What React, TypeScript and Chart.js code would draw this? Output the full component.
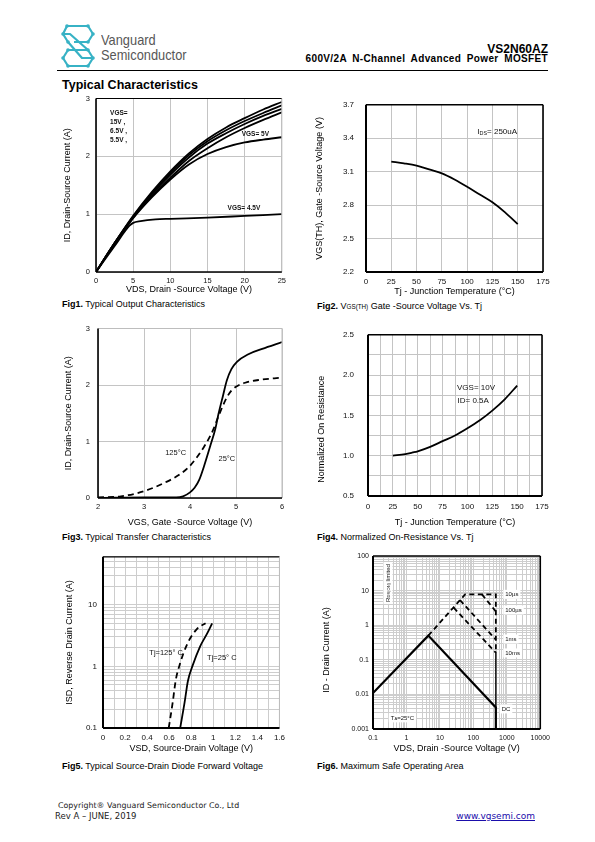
import React, { useEffect, useRef } from "react";
import { Chart, registerables } from "chart.js";

Chart.register(...registerables);

const SANS = "'Liberation Sans', Arial, Helvetica, sans-serif";
const NARROW = "'Liberation Sans Narrow', 'Arial Narrow', 'Liberation Sans', Arial, sans-serif";
const FOOT = "'DejaVu Sans', Verdana, sans-serif";

// ---------------- Fig1: output characteristics ----------------
const fig1Vds = [0, 2.5, 5, 7.5, 10, 12.5, 15, 17.5, 20, 22.5, 25];
const fig1Id15V = [0, 0.5, 0.97, 1.38, 1.74, 2.05, 2.3, 2.5, 2.66, 2.81, 2.94];
const fig1Id65V = [0, 0.5, 0.96, 1.36, 1.71, 2.02, 2.26, 2.45, 2.61, 2.75, 2.88];
const fig1Id6V = [0, 0.5, 0.95, 1.34, 1.68, 1.98, 2.22, 2.4, 2.56, 2.7, 2.82];
const fig1Id55V = [0, 0.49, 0.94, 1.31, 1.63, 1.92, 2.14, 2.33, 2.49, 2.63, 2.76];
const fig1Id5V = [0, 0.49, 0.93, 1.29, 1.6, 1.86, 2.04, 2.16, 2.24, 2.29, 2.33];
const fig1Vds45 = [0, 2.5, 4.5, 5, 6, 8, 10, 15, 20, 25];
const fig1Id45V = [0, 0.45, 0.8, 0.85, 0.88, 0.91, 0.92, 0.94, 0.97, 1.0];
const fig1NoteText = ["VGS=", "15V ,", "6.5V ,", "5.5V ,", "VGS= 5V", "VGS= 4.5V"];
const fig1NoteX = [1.9, 1.9, 1.9, 1.9, 19.6, 17.7];
const fig1NoteY = [2.74, 2.59, 2.43, 2.28, 2.39, 1.11];

// ---------------- Fig2: VGS(th) vs Tj ----------------
const fig2Tj = [25, 37.5, 50, 62.5, 75, 87.5, 100, 112.5, 125, 137.5, 150];
const fig2Vth = [3.19, 3.175, 3.155, 3.12, 3.085, 3.03, 2.965, 2.895, 2.825, 2.735, 2.63];
const fig2NoteText = ["I_{DS}= 250uA"];
const fig2NoteX = [110];
const fig2NoteY = [3.46];

// ---------------- Fig3: transfer characteristics ----------------
const fig3Vgs25 = [2, 3, 3.7, 3.85, 4.0, 4.1, 4.2, 4.3, 4.44, 4.55, 4.62, 4.72, 4.8, 4.9, 5.02, 5.28, 5.57, 6];
const fig3Id25 = [0, 0.01, 0.01, 0.03, 0.1, 0.18, 0.32, 0.55, 0.92, 1.22, 1.49, 1.82, 2.08, 2.28, 2.41, 2.55, 2.64, 2.76];
const fig3Vgs125 = [2, 2.5, 3, 3.5, 3.8, 4.0, 4.3, 4.5, 4.62, 4.8, 4.9, 5.0, 5.2, 5.5, 6];
const fig3Id125 = [0.01, 0.03, 0.12, 0.29, 0.43, 0.57, 0.9, 1.2, 1.45, 1.78, 1.9, 1.97, 2.04, 2.09, 2.13];
const fig3NoteText = ["125°C", "25°C"];
const fig3NoteX = [3.46, 4.62];
const fig3NoteY = [0.8, 0.7];

// ---------------- Fig4: normalized on-resistance ----------------
const fig4Tj = [25, 37.5, 45, 50, 62.5, 75, 87.5, 100, 112.5, 125, 137.5, 150];
const fig4Rn = [1.0, 1.02, 1.04, 1.055, 1.11, 1.18, 1.25, 1.34, 1.44, 1.56, 1.7, 1.87];
const fig4NoteText = ["VGS= 10V", "ID= 0.5A"];
const fig4NoteX = [89.5, 90];
const fig4NoteY = [1.845, 1.676];

// ---------------- Fig5: body diode ----------------
const fig5Vsd25 = [0.7, 0.74, 0.77, 0.81, 0.88, 0.94, 0.99];
const fig5Isd25 = [0.1, 0.26, 0.58, 1.0, 2.1, 3.3, 5.0];
const fig5Vsd125 = [0.596, 0.632, 0.66, 0.7, 0.766, 0.855, 0.93];
const fig5Isd125 = [0.1, 0.26, 0.6, 1.13, 2.35, 4.1, 5.0];
const fig5NoteText = ["Tj=125° C", "Tj=25° C"];
const fig5NoteX = [0.42, 0.944];
const fig5NoteY = [1.65, 1.37];

// ---------------- Fig6: safe operating area ----------------
const fig6DcV = [0.1, 4.5, 470, 470];
const fig6DcI = [0.011, 0.5, 0.0042, 0.001];
const fig6LimV = [4.5, 57, 470, 470];
const fig6LimI = [0.5, 7.8, 7.8, 0.17];
const fig6EdgeV = [470, 470];
const fig6EdgeI = [0.17, 0.0042];
const fig6P100usV = [180, 470];
const fig6P100usI = [7.8, 2.5];
const fig6P1msV = [40, 470];
const fig6P1msI = [5.3, 0.38];
const fig6P10msV = [25.8, 470];
const fig6P10msI = [3.2, 0.16];
const fig6NoteText = ["10µs", "100µs", "1ms", "10ms", "DC", "T_{A}=25°C", "R_{DS(ON)} limited"];
const fig6NoteX = [900, 900, 900, 900, 700, 0.34, 0.28];
const fig6NoteY = [7.8, 2.76, 0.4, 0.158, 0.0038, 0.0021, 16.6];

// ---------------- helpers ----------------
type Note = {
  x: number; y: number; text: string; size: number; family: string;
  weight?: string; align?: "left" | "center"; rotate?: boolean; bg?: boolean;
};

function parseRich(t: string) {
  const out: { t: string; sub: boolean }[] = [];
  const re = /_\{([^}]*)\}/g;
  let last = 0;
  let m: RegExpExecArray | null;
  while ((m = re.exec(t))) {
    if (m.index > last) out.push({ t: t.slice(last, m.index), sub: false });
    out.push({ t: m[1], sub: true });
    last = m.index + m[0].length;
  }
  if (last < t.length) out.push({ t: t.slice(last), sub: false });
  return out;
}

const notesPlugin = {
  id: "notes",
  afterDatasetsDraw(chart: any, _a: any, opts: any) {
    const items: Note[] = (opts && opts.items) || [];
    const ctx = chart.ctx as CanvasRenderingContext2D;
    const xs = chart.scales.x, ys = chart.scales.y;
    for (const n of items) {
      const px = xs.getPixelForValue(n.x);
      const py = ys.getPixelForValue(n.y);
      const segs = parseRich(n.text);
      ctx.save();
      ctx.translate(px, py);
      if (n.rotate) ctx.rotate(-Math.PI / 2);
      const fnt = (sub: boolean) => `${n.weight || "normal"} ${sub ? n.size * 0.68 : n.size}px ${n.family}`;
      const widths = segs.map((s) => { ctx.font = fnt(s.sub); return ctx.measureText(s.t).width; });
      const total = widths.reduce((a, b) => a + b, 0);
      let x0 = n.align === "center" ? -total / 2 : 0;
      if (n.bg) {
        ctx.fillStyle = "#fff";
        ctx.fillRect(x0 - 2, -n.size * 0.75, total + 4, n.size * 1.5);
      }
      ctx.fillStyle = "#111";
      ctx.textBaseline = "middle";
      ctx.textAlign = "left";
      segs.forEach((s, i) => {
        ctx.font = fnt(s.sub);
        ctx.fillText(s.t, x0, s.sub ? n.size * 0.22 : 0);
        x0 += widths[i];
      });
      ctx.restore();
    }
  },
};

const framePlugin = {
  id: "frame",
  afterDatasetsDraw(chart: any, _a: any, o: any) {
    const { left, top, right, bottom } = chart.chartArea;
    const ctx = chart.ctx as CanvasRenderingContext2D;
    const side = (x1: number, y1: number, x2: number, y2: number, s: [string, number]) => {
      if (!s) return;
      ctx.save();
      ctx.strokeStyle = s[0];
      ctx.lineWidth = s[1];
      ctx.beginPath();
      ctx.moveTo(x1, y1);
      ctx.lineTo(x2, y2);
      ctx.stroke();
      ctx.restore();
    };
    side(left, top, right, top, o.top);
    side(right, top, right, bottom, o.right);
    side(left, bottom, right, bottom, o.bottom);
    side(left, top, left, bottom, o.left);
  },
};

function logTicks(min: number, max: number) {
  const out: number[] = [];
  for (let e = Math.floor(Math.log10(min)); e <= Math.ceil(Math.log10(max)); e++) {
    for (let s = 1; s <= 9; s++) {
      const v = Number((s * Math.pow(10, e)).toPrecision(6));
      if (v >= min * 0.9999 && v <= max * 1.0001) out.push(v);
    }
  }
  if (out[out.length - 1] < max) out.push(max);
  return out;
}

const isDecade = (v: number) => Math.abs(Math.log10(v) - Math.round(Math.log10(v))) < 1e-6;
const fmtDecade = (v: number) => (isDecade(v) ? String(Number(v.toPrecision(3))) : "");

type AxisSpec = {
  type: "linear" | "logarithmic";
  min: number; max: number; step?: number;
  fmt: (v: number) => string;
  title: string; titlePad: number; tickPad: number;
  tickFont: any; grid: string;
};

function buildAxis(a: AxisSpec, horizontal: boolean, size: number) {
  return {
    type: a.type,
    min: a.min,
    max: a.max,
    border: { display: false },
    grid: { color: a.grid, lineWidth: 1, drawTicks: false },
    ticks: {
      stepSize: a.step,
      autoSkip: false,
      maxRotation: 0,
      minRotation: 0,
      maxTicksLimit: 1000,
      padding: a.tickPad,
      font: a.tickFont,
      color: "#111",
      callback: (v: any) => a.fmt(Number(v)),
    },
    title: {
      display: true,
      text: a.title,
      color: "#000",
      font: { family: SANS, size: 9 },
      padding: horizontal ? { top: 0, bottom: a.titlePad } : { top: a.titlePad, bottom: 0 },
    },
    afterBuildTicks: a.type === "logarithmic"
      ? (s: any) => { s.ticks = logTicks(a.min, a.max).map((value) => ({ value })); }
      : undefined,
    afterFit: (s: any) => {
      if (horizontal) s.height = size; else s.width = size;
    },
  };
}

type PanelProps = {
  box: { left: number; top: number; w: number; h: number };
  plot: { l: number; t: number; r: number; b: number };
  x: AxisSpec; y: AxisSpec;
  datasets: any[];
  notes: Note[];
  frame: any;
};

function Panel(p: PanelProps) {
  const ref = useRef<HTMLCanvasElement>(null);
  useEffect(() => {
    const L = p.plot.l - p.box.left;
    const T = p.plot.t - p.box.top;
    const R = p.box.left + p.box.w - p.plot.r;
    const B = p.box.top + p.box.h - p.plot.b;
    const chart = new Chart(ref.current as HTMLCanvasElement, {
      type: "line",
      data: { datasets: p.datasets },
      plugins: [framePlugin, notesPlugin],
      options: {
        animation: false,
        responsive: false,
        maintainAspectRatio: false,
        devicePixelRatio: 1,
        layout: { padding: { left: 0, top: T, right: R, bottom: 0 } },
        scales: { x: buildAxis(p.x, true, B), y: buildAxis(p.y, false, L) } as any,
        plugins: {
          legend: { display: false },
          tooltip: { enabled: false },
          frame: p.frame,
          notes: { items: p.notes },
        } as any,
      },
    } as any);
    return () => chart.destroy();
  }, []);
  return (
    <canvas
      ref={ref}
      width={p.box.w}
      height={p.box.h}
      style={{ position: "absolute", left: p.box.left, top: p.box.top, width: p.box.w, height: p.box.h }}
    />
  );
}

const series = (xs: number[], ys: number[], extra: any = {}) => ({
  data: xs.map((x, i) => ({ x, y: ys[i] })),
  borderColor: "#000",
  borderWidth: 1.8,
  pointRadius: 0,
  fill: false,
  tension: 0,
  ...extra,
});
const smooth = { cubicInterpolationMode: "monotone" };
const dashed = { borderDash: [5, 3.5] };

const notesOf = (texts: string[], xs: number[], ys: number[], style: Partial<Note>): Note[] =>
  texts.map((text, i) => ({ x: xs[i], y: ys[i], text, size: 7, family: NARROW, ...style } as Note));

const tickSans = { family: SANS, size: 7.5 };
const tickNarrow = { family: NARROW, size: 8 };
const GRID = "#c4c4c4";
const GRID_L = "#cdcdcd";
const BLK: [string, number] = ["#000", 1.6];
const THIN: [string, number] = ["#000", 1.2];
const GRY: [string, number] = ["#bdbdbd", 1];

const int = (v: number) => String(Math.round(v));
const f1 = (v: number) => v.toFixed(1);
const PAD = (n: number) => " ".repeat(n);

function Txt(props: any) {
  const { left, right, top, size, bold, family, color, style, children } = props;
  return (
    <div
      style={{
        position: "absolute",
        left,
        right,
        top,
        fontSize: size,
        lineHeight: `${size}px`,
        fontWeight: bold ? "bold" : "normal",
        fontFamily: family || SANS,
        color: color || "#000",
        whiteSpace: "nowrap",
        ...style,
      }}
    >
      {children}
    </div>
  );
}

function Caption({ left, top, n, children }: any) {
  return (
    <Txt left={left} top={top} size={9}>
      <b>{`Fig${n}.`}</b> {children}
    </Txt>
  );
}

function Logo() {
  const c = "#37b2c5";
  const dots = [[6, 2], [27, 2], [32, 10], [27, 18], [2, 10], [7, 18], [7, 26], [27, 26], [2, 34], [7, 42], [27, 42], [32, 34]];
  return (
    <svg width={35} height={45} viewBox="-1 -1 35 45" style={{ position: "absolute", left: 60, top: 23 }}>
      <g stroke={c} strokeWidth={2.2} fill="none" strokeLinejoin="round">
        <path d="M27 2 H6 L2 10 L7 18" />
        <path d="M27 2 L32 10 L27 18 H13" />
        <path d="M2 10 H9 L27 26" />
        <path d="M7 18 L21 34 H32" />
        <path d="M7 26 H27 L32 34 L27 42 H7 L2 34 L7 26" />
      </g>
      {dots.map(([x, y], i) => (
        <circle key={i} cx={x} cy={y} r={1.8} fill={c} />
      ))}
    </svg>
  );
}

const brandStyle = { transform: "scaleX(0.855)", transformOrigin: "0 0" };

export default function App() {
  return (
    <div style={{ position: "absolute", left: 0, top: 0, width: 595, height: 842, background: "#fff", overflow: "hidden" }}>
      {/* header */}
      <Logo />
      <Txt left={101} top={32} size={15} family={SANS} color="#575757" style={brandStyle}>Vanguard</Txt>
      <Txt left={101} top={47} size={15} family={SANS} color="#575757" style={brandStyle}>Semiconductor</Txt>
      <Txt right={47} top={43} size={12} bold>VS2N60AZ</Txt>
      <Txt right={47} top={53.5} size={10} bold style={{ letterSpacing: "0.35px", wordSpacing: "2.5px" }}>
        600V/2A N-Channel Advanced Power MOSFET
      </Txt>
      <div style={{ position: "absolute", left: 57, top: 70, width: 491, height: 1.2, background: "#000" }} />
      <Txt left={62} top={78.5} size={12.5} bold>Typical Characteristics</Txt>

      {/* Fig1 */}
      <Panel
        box={{ left: 55, top: 88, w: 235, h: 208 }}
        plot={{ l: 96, t: 97, r: 282, b: 272 }}
        x={{ type: "linear", min: 0, max: 25, step: 5, fmt: int, title: "VDS, Drain -Source Voltage (V)", titlePad: 0.6, tickPad: 4, tickFont: tickSans, grid: GRID }}
        y={{ type: "linear", min: 0, max: 3, step: 1, fmt: int, title: "ID, Drain-Source Current (A)", titlePad: 7.6, tickPad: 6, tickFont: tickSans, grid: GRID }}
        datasets={[
          series(fig1Vds, fig1Id15V, smooth),
          series(fig1Vds, fig1Id65V, smooth),
          series(fig1Vds, fig1Id6V, smooth),
          series(fig1Vds, fig1Id55V, smooth),
          series(fig1Vds, fig1Id5V, smooth),
          series(fig1Vds45, fig1Id45V, smooth),
        ]}
        notes={notesOf(fig1NoteText, fig1NoteX, fig1NoteY, { size: 6.5, weight: "bold" })}
        frame={{ left: BLK, bottom: BLK, top: THIN, right: GRY }}
      />
      <Caption left={62} top={299.5} n={1}>Typical Output Characteristics</Caption>

      {/* Fig2 */}
      <Panel
        box={{ left: 300, top: 88, w: 255, h: 210 }}
        plot={{ l: 366, t: 99, r: 543, b: 272 }}
        x={{ type: "linear", min: 0, max: 175, step: 25, fmt: int, title: "Tj - Junction Temperature (°C)", titlePad: 0.9, tickPad: 5, tickFont: tickNarrow, grid: GRID }}
        y={{ type: "linear", min: 2.2, max: 3.7, step: 0.3, fmt: f1, title: "VGS(TH), Gate -Source Voltage (V)", titlePad: 14.6, tickPad: 12, tickFont: tickNarrow, grid: GRID }}
        datasets={[series(fig2Tj, fig2Vth, smooth)]}
        notes={notesOf(fig2NoteText, fig2NoteX, fig2NoteY, { size: 8 })}
        frame={{ left: ["#000", 2], bottom: ["#000", 2], top: BLK, right: BLK }}
      />
      <Txt left={317} top={301.5} size={9}>
        <b>Fig2.</b> V<span style={{ fontSize: 6.3 }}>GS(TH)</span> Gate -Source Voltage Vs. Tj
      </Txt>

      {/* Fig3 */}
      <Panel
        box={{ left: 55, top: 316, w: 235, h: 214 }}
        plot={{ l: 98, t: 324, r: 282, b: 498 }}
        x={{ type: "linear", min: 2, max: 6, step: 1, fmt: int, title: "VGS, Gate -Source Voltage (V)", titlePad: 2.3, tickPad: 4.5, tickFont: tickSans, grid: GRID }}
        y={{ type: "linear", min: 0, max: 3, step: 1, fmt: int, title: "ID, Drain-Source Current (A)", titlePad: 7.9, tickPad: 8, tickFont: tickSans, grid: GRID }}
        datasets={[
          series(fig3Vgs25, fig3Id25, smooth),
          series(fig3Vgs125, fig3Id125, { ...smooth, borderDash: [6, 4] }),
        ]}
        notes={notesOf(fig3NoteText, fig3NoteX, fig3NoteY, { size: 7.5, family: SANS })}
        frame={{ left: BLK, bottom: BLK, top: GRY, right: GRY }}
      />
      <Caption left={62} top={532.5} n={3}>Typical Transfer Characteristics</Caption>

      {/* Fig4 */}
      <Panel
        box={{ left: 300, top: 316, w: 255, h: 214 }}
        plot={{ l: 368, t: 326, r: 542, b: 496 }}
        x={{ type: "linear", min: 0, max: 175, step: 12.5, fmt: (v) => (Math.abs(v / 25 - Math.round(v / 25)) < 1e-6 ? int(v) : ""), title: "Tj - Junction Temperature (°C)", titlePad: 2.3, tickPad: 6, tickFont: tickNarrow, grid: GRID }}
        y={{ type: "linear", min: 0.5, max: 2.5, step: 0.25, fmt: (v) => (Math.abs(v * 2 - Math.round(v * 2)) < 1e-6 ? f1(v) : ""), title: "Normalized On Resistance" + PAD(11), titlePad: 16.3, tickPad: 14, tickFont: tickNarrow, grid: GRID }}
        datasets={[series(fig4Tj, fig4Rn, smooth)]}
        notes={notesOf(fig4NoteText, fig4NoteX, fig4NoteY, { size: 8 })}
        frame={{ left: ["#000", 2], bottom: ["#000", 2], top: BLK, right: BLK }}
      />
      <Caption left={317} top={532.5} n={4}>Normalized On-Resistance Vs. Tj</Caption>

      {/* Fig5 */}
      <Panel
        box={{ left: 55, top: 546, w: 235, h: 211 }}
        plot={{ l: 103, t: 554, r: 282, b: 728 }}
        x={{ type: "linear", min: 0, max: 1.6, step: 0.1, fmt: (v) => { const r = Math.round(v * 10); return r % 2 ? "" : String(r / 10); }, title: "VSD, Source-Drain Voltage (V)", titlePad: 2.6, tickPad: 5, tickFont: tickNarrow, grid: GRID_L }}
        y={{ type: "logarithmic", min: 0.1, max: 60, fmt: fmtDecade, title: "ISD, Reverse Drain Current (A)", titlePad: 9.6, tickPad: 6, tickFont: tickNarrow, grid: GRID_L }}
        datasets={[
          series(fig5Vsd25, fig5Isd25, smooth),
          series(fig5Vsd125, fig5Isd125, { ...smooth, borderDash: [6, 4] }),
        ]}
        notes={notesOf(fig5NoteText, fig5NoteX, fig5NoteY, { size: 7.5 })}
        frame={{ left: ["#000", 2], bottom: ["#000", 2], top: THIN, right: GRY }}
      />
      <Caption left={62} top={761.5} n={5}>Typical Source-Drain Diode Forward Voltage</Caption>

      {/* Fig6 */}
      <Panel
        box={{ left: 305, top: 546, w: 250, h: 211 }}
        plot={{ l: 373, t: 556, r: 543, b: 729 }}
        x={{ type: "logarithmic", min: 0.1, max: 10000, fmt: fmtDecade, title: "VDS, Drain -Source Voltage (V)", titlePad: 2.6, tickPad: 5, tickFont: { family: NARROW, size: 7 }, grid: GRID_L }}
        y={{ type: "logarithmic", min: 0.001, max: 100, fmt: fmtDecade, title: "ID - Drain Current (A)" + PAD(6), titlePad: 16.3, tickPad: 4, tickFont: { family: NARROW, size: 7 }, grid: GRID_L }}
        datasets={[
          series(fig6EdgeV, fig6EdgeI, { borderWidth: 1.4 }),
          series(fig6LimV, fig6LimI, { ...dashed, borderWidth: 1.8 }),
          series(fig6P100usV, fig6P100usI, { ...dashed, borderWidth: 1.8 }),
          series(fig6P1msV, fig6P1msI, { ...dashed, borderWidth: 1.8 }),
          series(fig6P10msV, fig6P10msI, { ...dashed, borderWidth: 1.8 }),
          series(fig6DcV, fig6DcI, { borderWidth: 2.2 }),
        ]}
        notes={[
          ...notesOf(fig6NoteText.slice(0, 6), fig6NoteX.slice(0, 6), fig6NoteY.slice(0, 6), { size: 6, bg: true }),
          ...notesOf(fig6NoteText.slice(6), fig6NoteX.slice(6), fig6NoteY.slice(6), { size: 6, bg: true, rotate: true, align: "center" }),
        ]}
        frame={{ left: ["#000", 2], bottom: ["#000", 2], top: BLK, right: BLK }}
      />
      <Caption left={317} top={761.5} n={6}>Maximum Safe Operating Area</Caption>

      {/* footer */}
      <Txt left={58} top={801.5} size={7.9} family={FOOT} color="#222">Copyright® Vanguard Semiconductor Co., Ltd</Txt>
      <Txt left={55} top={811.8} size={8.5} family={FOOT} color="#222">Rev A – JUNE, 2019</Txt>
      <Txt right={60} top={811.5} size={9} family={FOOT} color="#1a0dab" style={{ textDecoration: "underline" }}>www.vgsemi.com</Txt>
    </div>
  );
}
